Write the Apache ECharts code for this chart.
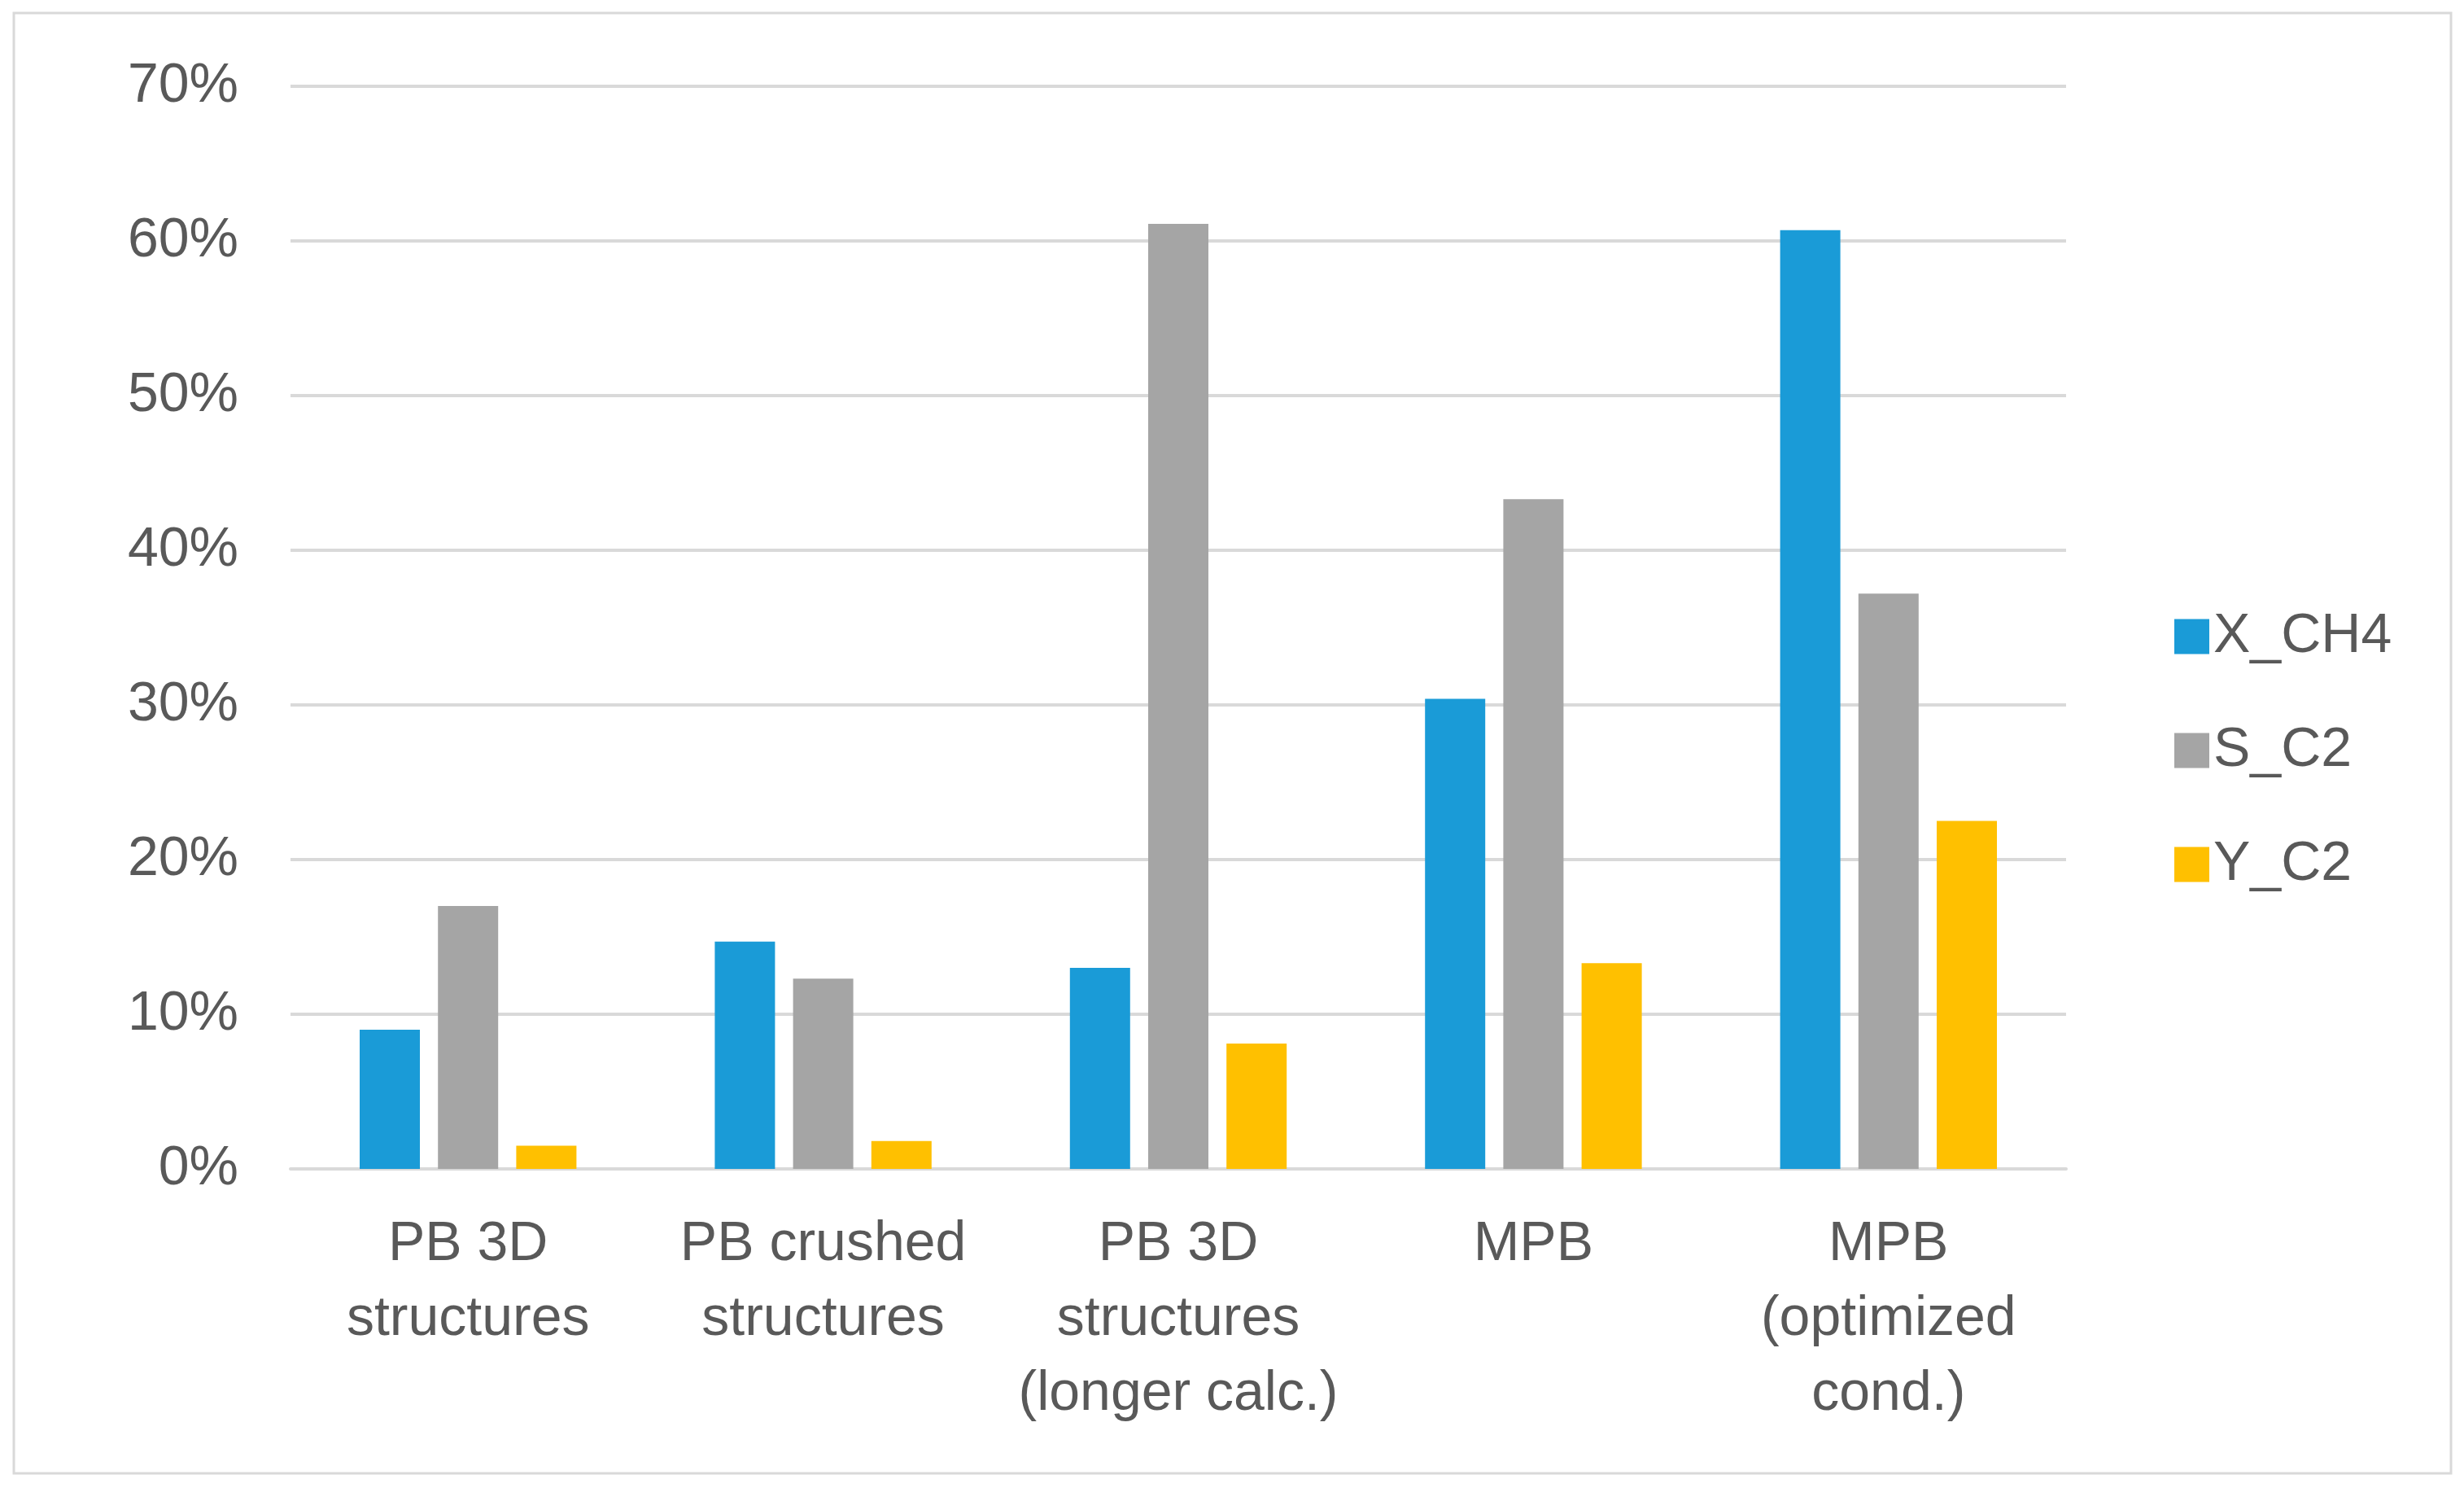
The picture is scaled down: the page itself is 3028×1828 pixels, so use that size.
<!DOCTYPE html>
<html>
<head>
<meta charset="utf-8">
<script src="https://cdn.jsdelivr.net/npm/echarts@6/dist/echarts.min.js"></script>
<style>
html,body{margin:0;padding:0;background:#fff;}
#chart{width:3028px;height:1828px;}
</style>
</head>
<body>
<div id="chart"></div>
<script>
const categories = [
  'PB 3D\nstructures',
  'PB crushed\nstructures',
  'PB 3D\nstructures\n(longer calc.)',
  'MPB',
  'MPB\n(optimized\ncond.)'
];
const seriesNames = ['X_CH4', 'S_C2', 'Y_C2'];
const xCH4 = [9.0, 14.7, 13.0, 30.4, 60.7];
const sC2 = [17.0, 12.3, 61.1, 43.3, 37.2];
const yC2 = [1.5, 1.8, 8.1, 13.3, 22.5];
const colors = ['#1a9bd7', '#a5a5a5', '#ffc000'];

const chart = echarts.init(document.getElementById('chart'), null, {renderer: 'canvas'});
const font = 'Liberation Sans, Arial, sans-serif';
const textColor = '#595959';

chart.setOption({
  backgroundColor: '#ffffff',
  animation: false,
  color: colors,
  graphic: [{
    type: 'rect',
    shape: {x: 17, y: 16, width: 2995, height: 1794},
    style: {fill: 'none', stroke: '#d9d9d9', lineWidth: 3},
    silent: true
  }],
  grid: {left: 357, right: 3028 - 2539, top: 106, bottom: 1828 - 1436, containLabel: false},
  legend: {
    orient: 'vertical',
    left: 2667,
    top: 742,
    itemWidth: 43,
    itemHeight: 43,
    itemGap: 70,
    icon: 'rect',
    textStyle: {fontFamily: font, fontSize: 68, color: textColor, lineHeight: 70, padding: [0, 0, 0, 0]},
    data: seriesNames
  },
  xAxis: {
    type: 'category',
    data: categories,
    axisLine: {show: true, lineStyle: {color: '#d9d9d9', width: 4}},
    axisTick: {show: false},
    axisLabel: {
      interval: 0,
      margin: 47,
      fontFamily: font,
      fontSize: 68,
      lineHeight: 92,
      color: textColor,
      align: 'center'
    }
  },
  yAxis: {
    type: 'value',
    min: 0,
    max: 70,
    interval: 10,
    axisLine: {show: false},
    axisTick: {show: false},
    splitLine: {lineStyle: {color: '#d9d9d9', width: 4}},
    axisLabel: {
      formatter: '{value}%',
      margin: 64,
      fontFamily: font,
      fontSize: 68,
      color: textColor
    }
  },
  series: [
    {name: seriesNames[0], type: 'bar', data: xCH4, barWidth: 74, barGap: '30%'},
    {name: seriesNames[1], type: 'bar', data: sC2, barWidth: 74, barGap: '30%'},
    {name: seriesNames[2], type: 'bar', data: yC2, barWidth: 74, barGap: '30%'}
  ]
});
</script>
</body>
</html>
